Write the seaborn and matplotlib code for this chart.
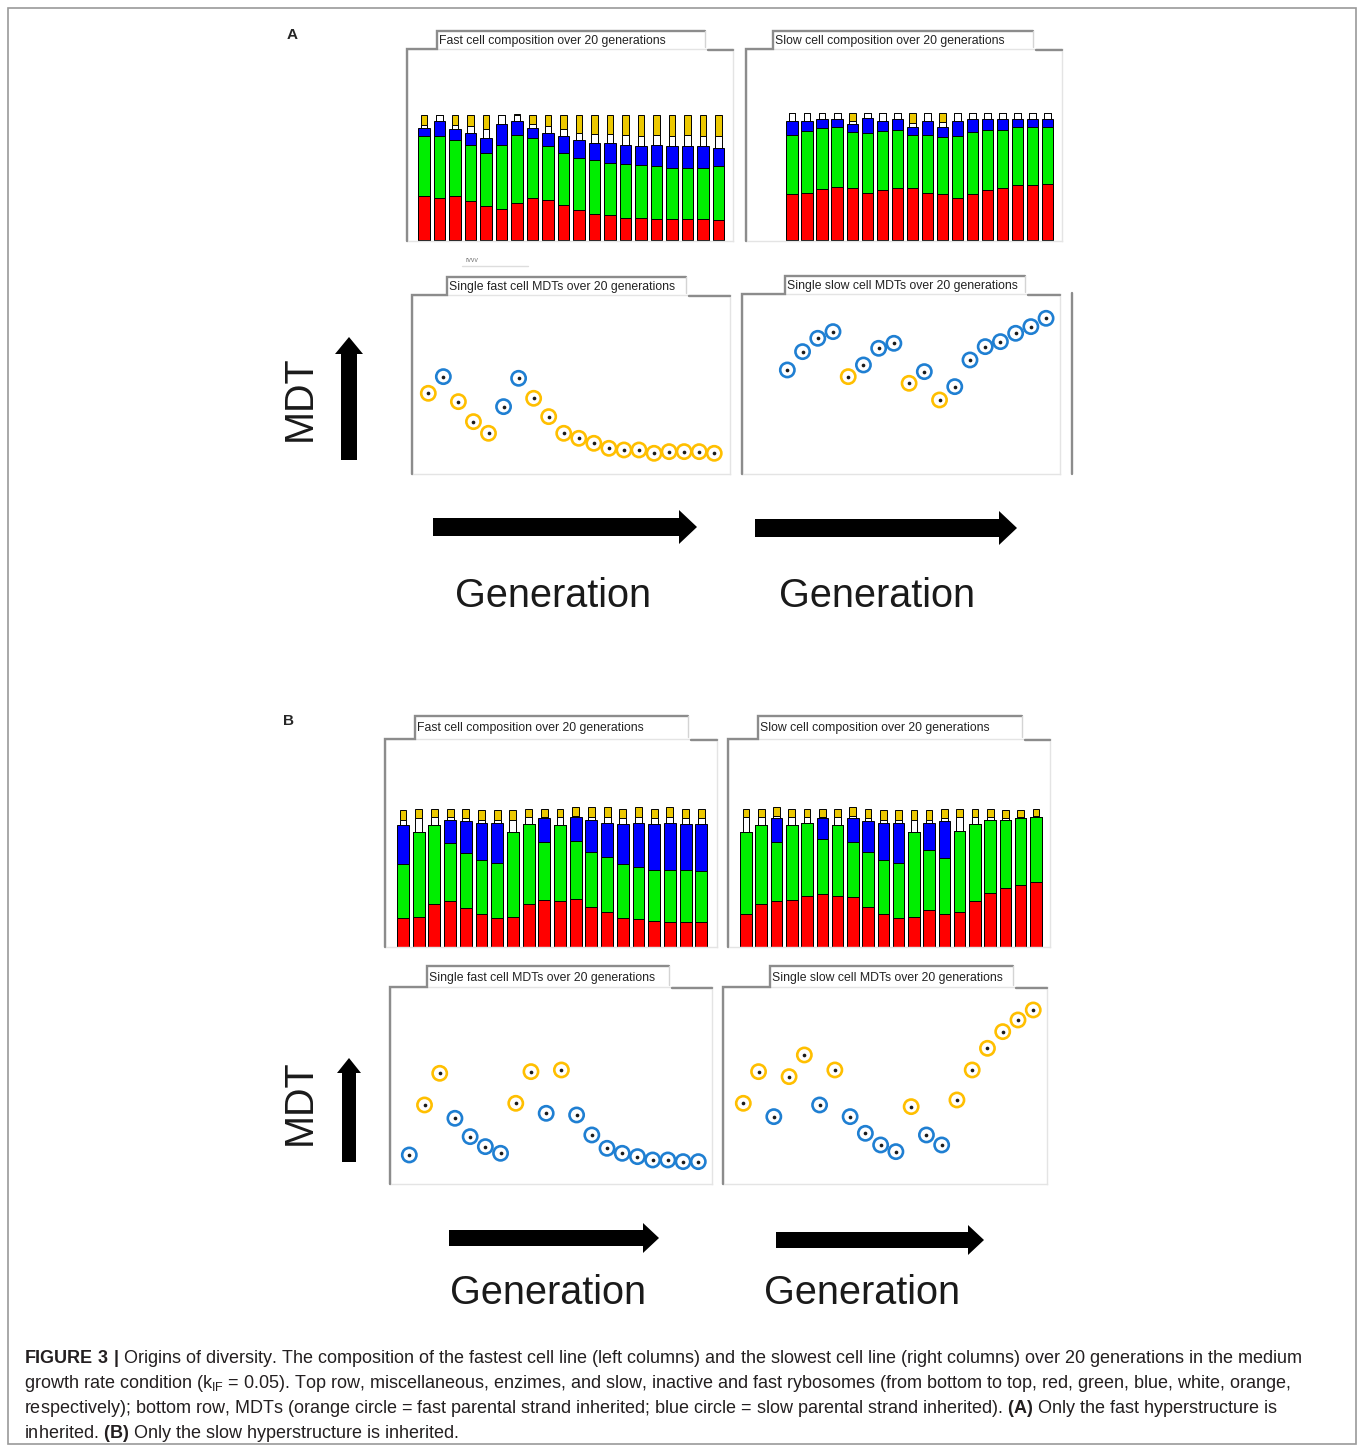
import numpy as np
import pandas as pd
import matplotlib
matplotlib.use("Agg")
import matplotlib.pyplot as plt
from matplotlib.patches import FancyArrow, Rectangle
import seaborn as sns

# ==========================================
# DATA
# ==========================================
gens = list(range(1, 21))
gens_a_slow = list(range(3, 21))   # the slow panel in A only shows gens 3-20

# composition, % of cell (red=misc, green=enzymes, blue=slow ribo, white=inactive, orange=fast ribo)
a_fast_red = [35, 34, 35, 31, 27, 25, 30, 34, 32, 28, 24, 21, 20, 18, 18, 17, 17, 17, 17, 16]
a_fast_green = [48, 49, 45, 45, 43, 51, 54, 48, 43, 42, 42, 43, 42, 43, 42, 42, 41, 41, 41, 43]
a_fast_blue = [7, 12, 9, 10, 12, 17, 11, 8, 11, 13, 14, 14, 16, 15, 15, 17, 17, 17, 17, 15]
a_fast_white = [2, 5, 3, 5, 7, 7, 5, 3, 5, 6, 6, 7, 7, 8, 8, 8, 8, 9, 8, 9]
a_fast_orange = [8, 0, 8, 9, 11, 0, 1, 7, 9, 11, 14, 15, 15, 16, 17, 16, 17, 16, 17, 17]

a_slow_red = [36, 37, 40, 42, 41, 37, 39, 41, 41, 37, 36, 33, 36, 39, 41, 43, 43, 44]
a_slow_green = [47, 49, 48, 47, 44, 47, 47, 46, 42, 46, 45, 49, 49, 48, 46, 46, 46, 45]
a_slow_blue = [11, 8, 7, 6, 6, 12, 8, 8, 6, 11, 8, 12, 10, 8, 8, 6, 6, 6]
a_slow_white = [6, 6, 5, 5, 3, 4, 6, 5, 3, 6, 4, 6, 5, 5, 5, 5, 5, 5]
a_slow_orange = [0, 0, 0, 0, 6, 0, 0, 0, 8, 0, 7, 0, 0, 0, 0, 0, 0, 0]

b_fast_red = [21, 22, 31, 33, 28, 24, 21, 22, 31, 34, 33, 35, 29, 25, 21, 20, 19, 18, 18, 18]
b_fast_green = [39, 61, 57, 42, 40, 39, 40, 61, 58, 42, 55, 42, 40, 40, 39, 38, 37, 38, 38, 37]
b_fast_blue = [28, 0, 0, 17, 23, 27, 29, 0, 0, 17, 0, 17, 23, 25, 29, 32, 33, 34, 33, 34]
b_fast_white = [4, 10, 6, 2, 2, 2, 2, 9, 5, 1, 6, 1, 2, 4, 4, 4, 4, 4, 4, 4]
b_fast_orange = [7, 7, 6, 6, 7, 7, 7, 7, 6, 6, 6, 6, 7, 7, 7, 7, 7, 7, 7, 7]

b_slow_red = [24, 31, 33, 34, 37, 38, 37, 36, 29, 24, 21, 22, 27, 24, 25, 33, 39, 43, 45, 47]
b_slow_green = [59, 57, 43, 54, 53, 40, 51, 40, 40, 39, 40, 61, 43, 40, 59, 56, 53, 49, 48, 47]
b_slow_blue = [0, 0, 17, 0, 0, 15, 0, 17, 22, 27, 29, 0, 20, 27, 0, 0, 0, 0, 0, 0]
b_slow_white = [11, 6, 2, 6, 4, 1, 6, 2, 2, 2, 2, 9, 2, 2, 10, 5, 2, 1, 1, 1]
b_slow_orange = [6, 6, 6, 6, 6, 6, 6, 6, 7, 7, 7, 7, 7, 7, 6, 6, 6, 6, 5, 5]

# single-cell MDTs (arbitrary units) and which parental strand was inherited
a_fast_mdt = [48, 58, 43, 31, 24, 40, 57, 45, 34, 24, 21, 18, 15, 14, 14, 12, 13, 13, 13, 12]
a_fast_strand = ['fast', 'slow', 'fast', 'fast', 'fast', 'slow', 'slow', 'fast', 'fast', 'fast',
                 'fast', 'fast', 'fast', 'fast', 'fast', 'fast', 'fast', 'fast', 'fast', 'fast']
a_slow_mdt = [62, 73, 81, 85, 58, 65, 75, 78, 54, 61, 44, 52, 68, 76, 79, 84, 88, 93]
a_slow_strand = ['slow', 'slow', 'slow', 'slow', 'fast', 'slow', 'slow', 'slow', 'fast', 'slow',
                 'fast', 'slow', 'slow', 'slow', 'slow', 'slow', 'slow', 'slow']
b_fast_mdt = [17, 47, 66, 39, 28, 22, 18, 48, 67, 42, 68, 41, 29, 21, 18, 16, 14, 14, 13, 13]
b_fast_strand = ['slow', 'fast', 'fast', 'slow', 'slow', 'slow', 'slow', 'fast', 'fast', 'slow',
                 'fast', 'slow', 'slow', 'slow', 'slow', 'slow', 'slow', 'slow', 'slow', 'slow']
b_slow_mdt = [48, 67, 40, 64, 77, 47, 68, 40, 30, 23, 19, 46, 29, 23, 50, 68, 81, 91, 98, 104]
b_slow_strand = ['fast', 'fast', 'slow', 'fast', 'fast', 'slow', 'fast', 'slow', 'slow', 'slow',
                 'slow', 'fast', 'slow', 'slow', 'fast', 'fast', 'fast', 'fast', 'fast', 'fast']

layer_colors = ['#ff0000', '#00ee00', '#0000ff', '#ffffff', '#ecc800']
strand_palette = {'fast': '#ffbf00', 'slow': '#1f7fd2'}

# ==========================================
# FIGURE SETUP
# ==========================================
sns.set_style("white")
plt.rcParams['font.family'] = ['Liberation Sans', 'DejaVu Sans']
plt.rcParams['mathtext.fontset'] = 'custom'
plt.rcParams['mathtext.rm'] = 'Liberation Sans'
plt.rcParams['mathtext.bf'] = 'Liberation Sans:bold'

W, H = 1360, 1448
fig = plt.figure(figsize=(W / 100, H / 100), dpi=100)


def add_ax(box):
    x0, y0, x1, y1 = box
    ax = fig.add_axes([x0 / W, 1 - y1 / H, (x1 - x0) / W, (y1 - y0) / H])
    ax.set_xticks([])
    ax.set_yticks([])
    for s in ax.spines.values():
        s.set_color('#e4e4e4')
        s.set_linewidth(1)
    return ax


def fit_limits(ax, box, x_ref, dx, p0, y_ref, dy):
    # map pixel geometry of the panel onto data limits
    x0, y0, x1, y1 = box
    ax.set_xlim(p0 + (x0 - x_ref) / dx, p0 + (x1 - x_ref) / dx)
    ax.set_ylim((y_ref - y1) / dy, (y_ref - y0) / dy)


def stacked_bars(box, g, layers, x_ref, dx, y_ref, dy):
    ax = add_ax(box)
    tops = np.cumsum(np.array(layers), axis=0)
    widths = [0.76, 0.76, 0.76, 0.44, 0.44]
    for i in range(len(layers) - 1, -1, -1):
        sns.barplot(x=g, y=tops[i], order=gens, color=layer_colors[i], saturation=1,
                    edgecolor='black', linewidth=0.7, width=widths[i], errorbar=None, ax=ax)
    ax.set_xticks([])
    ax.set_yticks([])
    ax.set_xlabel('')
    ax.set_ylabel('')
    fit_limits(ax, box, x_ref, dx, 0, y_ref, dy)
    return ax


def mdt_scatter(box, g, mdt, strand, x_ref, dx, y_ref, dy):
    ax = add_ax(box)
    df = pd.DataFrame({'gen': g, 'mdt': mdt, 'strand': strand})
    sns.scatterplot(data=df, x='gen', y='mdt', hue='strand', palette=strand_palette,
                    s=105, legend=False, ax=ax, zorder=3)
    coll = ax.collections[-1]
    cols = coll.get_facecolors().copy()
    coll.set_facecolor('white')
    coll.set_edgecolor(cols)
    coll.set_linewidth(1.9)
    sns.scatterplot(data=df, x='gen', y='mdt', color='#1a1a1a', s=7, linewidth=0,
                    legend=False, ax=ax, zorder=4)
    ax.set_xticks([])
    ax.set_yticks([])
    ax.set_xlabel('')
    ax.set_ylabel('')
    fit_limits(ax, box, x_ref, dx, 1, y_ref, dy)
    return ax


# panel boxes in pixels (x0, y0, x1, y1) and title tabs (tx0, tx1, top)
box_a_bf, tab_a_bf = (407, 49, 733, 241), (437, 705, 31)
box_a_bs, tab_a_bs = (746, 49, 1062, 241), (773, 1033, 31)
box_a_sf, tab_a_sf = (412, 295, 730, 474), (447, 686, 277)
box_a_ss, tab_a_ss = (742, 294, 1060, 474), (785, 1025, 276)
box_b_bf, tab_b_bf = (385, 739, 717, 947), (415, 688, 716)
box_b_bs, tab_b_bs = (728, 739, 1050, 947), (758, 1022, 716)
box_b_sf, tab_b_sf = (390, 987, 712, 1184), (427, 669, 966)
box_b_ss, tab_b_ss = (723, 987, 1047, 1184), (770, 1013, 966)

stacked_bars(box_a_bf, gens, [a_fast_red, a_fast_green, a_fast_blue, a_fast_white, a_fast_orange],
             424, 15.5, 240, 1.25)
stacked_bars(box_a_bs, gens_a_slow, [a_slow_red, a_slow_green, a_slow_blue, a_slow_white, a_slow_orange],
             762, 15.04, 240, 1.27)
stacked_bars(box_b_bf, gens, [b_fast_red, b_fast_green, b_fast_blue, b_fast_white, b_fast_orange],
             403, 15.7, 947, 1.383)
stacked_bars(box_b_bs, gens, [b_slow_red, b_slow_green, b_slow_blue, b_slow_white, b_slow_orange],
             746, 15.26, 947, 1.383)

mdt_scatter(box_a_sf, gens, a_fast_mdt, a_fast_strand, 428.3, 15.05, 473.3, 5 / 3)
mdt_scatter(box_a_ss, gens_a_slow, a_slow_mdt, a_slow_strand, 756.9, 15.22, 473.3, 5 / 3)
mdt_scatter(box_b_sf, gens, b_fast_mdt, b_fast_strand, 409.3, 15.21, 1183.3, 5 / 3)
mdt_scatter(box_b_ss, gens, b_slow_mdt, b_slow_strand, 743.3, 15.26, 1183.3, 5 / 3)

# ==========================================
# OVERLAY: frames, arrows, labels, caption
# ==========================================
ov = fig.add_axes([0, 0, 1, 1], zorder=10)
ov.set_xlim(0, W)
ov.set_ylim(H, 0)
ov.axis('off')
ov.patch.set_alpha(0)

ov.add_patch(Rectangle((8, 8), 1348, 1436, fill=False, edgecolor='#9a9a9a', lw=1.2))


def frame(box, tab, title):
    x0, y0, x1, y1 = box
    tx0, tx1, ttop = tab
    g = '#8c8c8c'
    ov.plot([x0, x0, tx0, tx0, tx1], [y1, y0, y0, ttop, ttop], color=g, lw=1.7,
            solid_joinstyle='miter')
    ov.plot([tx1 + 3, x1], [y0 + 1, y0 + 1], color=g, lw=1.7)
    ov.plot([tx1, tx1], [ttop, y0 - 2], color='#d4d4d4', lw=1)
    ov.text(tx0 + 2, (ttop + y0) / 2 + 1, title, fontsize=8.8, ha='left', va='center',
            color='#222222')


frame(box_a_bf, tab_a_bf, 'Fast cell composition over 20 generations')
frame(box_a_bs, tab_a_bs, 'Slow cell composition over 20 generations')
frame(box_a_sf, tab_a_sf, 'Single fast cell MDTs over 20 generations')
frame(box_a_ss, tab_a_ss, 'Single slow cell MDTs over 20 generations')
frame(box_b_bf, tab_b_bf, 'Fast cell composition over 20 generations')
frame(box_b_bs, tab_b_bs, 'Slow cell composition over 20 generations')
frame(box_b_sf, tab_b_sf, 'Single fast cell MDTs over 20 generations')
frame(box_b_ss, tab_b_ss, 'Single slow cell MDTs over 20 generations')

# stray bits of the original screenshots
ov.plot([1072, 1072], [293, 474], color='#8c8c8c', lw=1.7)
ov.plot([462, 528], [266, 266], color='#dddddd', lw=1)
ov.text(465, 261, 'rvvv', fontsize=5, color='#777777', ha='left', va='center')

# panel letters
ov.text(292, 35, 'A', fontsize=11, fontweight='bold', ha='center', va='center')
ov.text(289, 721, 'B', fontsize=11, fontweight='bold', ha='center', va='center')

# axis cue arrows
arrow_kw = dict(length_includes_head=True, color='black', lw=0)
ov.add_patch(FancyArrow(349, 460, 0, -123, width=16, head_width=28, head_length=17, **arrow_kw))
ov.add_patch(FancyArrow(349, 1162, 0, -104, width=14, head_width=24, head_length=15, **arrow_kw))
ov.add_patch(FancyArrow(433, 527, 264, 0, width=18, head_width=34, head_length=18, **arrow_kw))
ov.add_patch(FancyArrow(755, 528, 262, 0, width=18, head_width=34, head_length=18, **arrow_kw))
ov.add_patch(FancyArrow(449, 1238, 210, 0, width=16, head_width=30, head_length=16, **arrow_kw))
ov.add_patch(FancyArrow(776, 1240, 208, 0, width=16, head_width=30, head_length=16, **arrow_kw))

big = dict(fontsize=28.5, color='#1a1a1a', ha='center', va='center')
ov.text(300, 398, 'MDT', rotation=90, **big)
ov.text(300, 1102, 'MDT', rotation=90, **big)
ov.text(553, 596, 'Generation', **big)
ov.text(877, 596, 'Generation', **big)
ov.text(548, 1293, 'Generation', **big)
ov.text(862, 1293, 'Generation', **big)

# caption
caption = [
    r"$\mathbf{FIGURE\ 3\ |}$ Origins of diversity. The composition of the fastest cell line (left columns) "
    r"and the slowest cell line (right columns) over 20 generations in the medium",
    r"growth rate condition (k$_{\mathrm{IF}}$ = 0.05). Top row, miscellaneous, enzimes, and slow, inactive "
    r"and fast rybosomes (from bottom to top, red, green, blue, white, orange,",
    r"respectively); bottom row, MDTs (orange circle = fast parental strand inherited; blue circle = slow "
    r"parental strand inherited). $\mathbf{(A)}$ Only the fast hyperstructure is",
    r"inherited. $\mathbf{(B)}$ Only the slow hyperstructure is inherited.",
]
for i, line in enumerate(caption):
    ov.text(24, 1363 + 25 * i, line, fontsize=13, color='#231f20', ha='left', va='baseline')

fig.savefig('out.png', dpi=100, facecolor='white')
